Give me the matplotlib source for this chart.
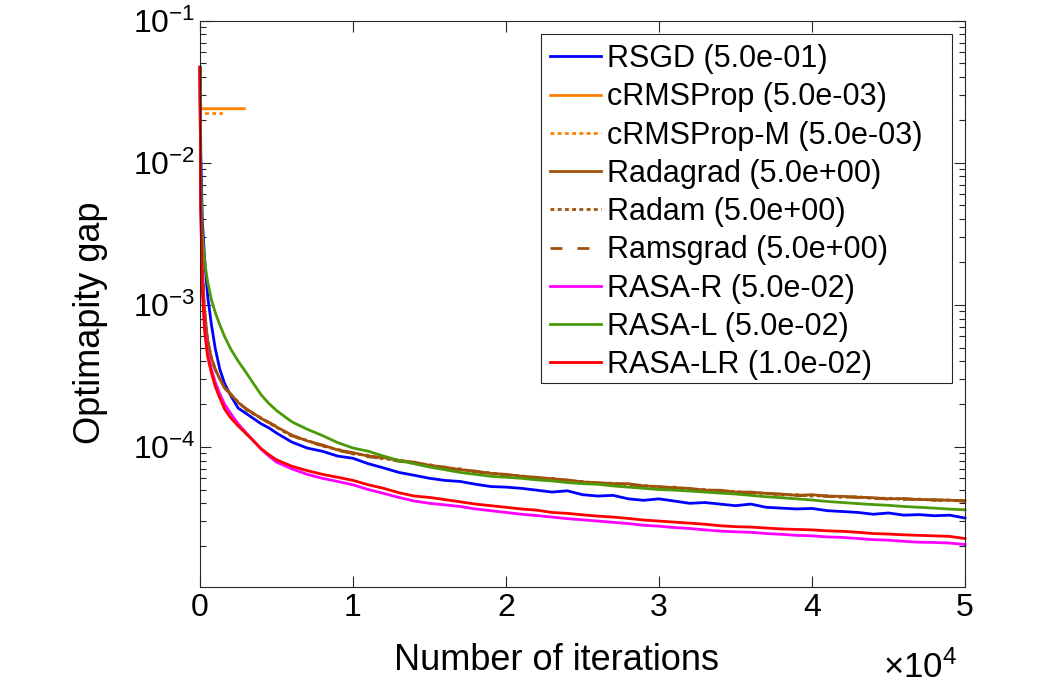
import numpy as np
import matplotlib.pyplot as plt
from matplotlib.patches import Rectangle
from matplotlib.ticker import FixedLocator, LogLocator, NullFormatter

plt.rcParams['font.family'] = ['Liberation Sans', 'DejaVu Sans']
plt.rcParams['mathtext.fontset'] = 'custom'
plt.rcParams['mathtext.rm'] = 'Liberation Sans'
plt.rcParams['mathtext.it'] = 'Liberation Sans:italic'

iters = [0, 50, 150, 300, 500, 750, 1000, 1300, 1600, 2000, 2500, 3000, 3500, 4000, 4500,
         5000, 6000, 7000, 8000, 9000, 10000, 11000, 12000, 13000, 14000, 15000, 16000,
         17000, 18000, 19000, 20000, 21000, 22000, 23000, 24000, 25000, 26000, 27000,
         28000, 29000, 30000, 31000, 32000, 33000, 34000, 35000, 36000, 37000, 38000,
         39000, 40000, 41000, 42000, 43000, 44000, 45000, 46000, 47000, 48000, 49000, 50000]

rsgd = [4.7e-2, 1.2e-2, 4.0e-3, 2.1e-3, 1.15e-3, 7.2e-4, 4.9e-4, 3.5e-4, 2.8e-4, 2.3e-4,
        1.87e-4, 1.72e-4, 1.58e-4, 1.45e-4, 1.36e-4, 1.25e-4, 1.08e-4, 9.8e-5, 9.3e-5,
        8.6e-5, 8.3e-5, 7.6e-5, 7.1e-5, 6.6e-5, 6.3e-5, 6.0e-5, 5.8e-5, 5.7e-5, 5.45e-5,
        5.25e-5, 5.2e-5, 5.1e-5, 4.95e-5, 4.8e-5, 4.9e-5, 4.6e-5, 4.5e-5, 4.55e-5, 4.3e-5,
        4.2e-5, 4.3e-5, 4.15e-5, 4.0e-5, 4.05e-5, 3.95e-5, 3.85e-5, 3.95e-5, 3.75e-5,
        3.7e-5, 3.65e-5, 3.68e-5, 3.55e-5, 3.5e-5, 3.45e-5, 3.35e-5, 3.42e-5, 3.3e-5,
        3.33e-5, 3.27e-5, 3.3e-5, 3.15e-5]

crms_it = [0, 50, 2900]
crms = [4.7e-2, 2.4e-2, 2.4e-2]
crmsm_it = [0, 50, 1500]
crmsm = [4.7e-2, 2.22e-2, 2.22e-2]

radagrad = [4.7e-2, 6.0e-3, 1.8e-3, 9.0e-4, 5.6e-4, 4.2e-4, 3.5e-4, 3.0e-4, 2.6e-4, 2.35e-4,
            2.05e-4, 1.85e-4, 1.72e-4, 1.58e-4, 1.49e-4, 1.38e-4, 1.21e-4, 1.1e-4, 1.03e-4,
            9.5e-5, 9.1e-5, 8.6e-5, 8.4e-5, 8.0e-5, 7.8e-5, 7.4e-5, 7.2e-5, 6.9e-5, 6.75e-5,
            6.5e-5, 6.4e-5, 6.2e-5, 6.1e-5, 5.95e-5, 5.85e-5, 5.65e-5, 5.6e-5, 5.5e-5, 5.5e-5,
            5.3e-5, 5.25e-5, 5.15e-5, 5.1e-5, 4.95e-5, 4.95e-5, 4.8e-5, 4.8e-5, 4.7e-5,
            4.65e-5, 4.55e-5, 4.6e-5, 4.5e-5, 4.48e-5, 4.42e-5, 4.38e-5, 4.3e-5, 4.32e-5,
            4.25e-5, 4.24e-5, 4.2e-5, 4.18e-5]
radam = [4.7e-2, 6.0e-3, 1.8e-3, 9.0e-4, 5.6e-4, 4.2e-4, 3.5e-4, 3.0e-4, 2.62e-4, 2.33e-4,
         2.07e-4, 1.83e-4, 1.7e-4, 1.6e-4, 1.47e-4, 1.37e-4, 1.19e-4, 1.11e-4, 1.01e-4,
         9.6e-5, 8.9e-5, 8.7e-5, 8.2e-5, 8.1e-5, 7.6e-5, 7.5e-5, 7.0e-5, 7.0e-5, 6.6e-5,
         6.55e-5, 6.3e-5, 6.25e-5, 6.0e-5, 6.0e-5, 5.75e-5, 5.7e-5, 5.5e-5, 5.55e-5, 5.4e-5,
         5.35e-5, 5.15e-5, 5.2e-5, 5.0e-5, 5.0e-5, 4.85e-5, 4.85e-5, 4.7e-5, 4.72e-5,
         4.58e-5, 4.6e-5, 4.5e-5, 4.52e-5, 4.4e-5, 4.45e-5, 4.32e-5, 4.35e-5, 4.25e-5,
         4.28e-5, 4.2e-5, 4.22e-5, 4.12e-5]
ramsgrad = [4.7e-2, 6.0e-3, 1.8e-3, 9.0e-4, 5.6e-4, 4.2e-4, 3.5e-4, 3.0e-4, 2.6e-4, 2.36e-4,
            2.04e-4, 1.86e-4, 1.71e-4, 1.57e-4, 1.48e-4, 1.39e-4, 1.2e-4, 1.09e-4, 1.02e-4,
            9.4e-5, 9.0e-5, 8.5e-5, 8.3e-5, 7.9e-5, 7.7e-5, 7.35e-5, 7.1e-5, 6.85e-5, 6.7e-5,
            6.45e-5, 6.35e-5, 6.15e-5, 6.05e-5, 5.9e-5, 5.8e-5, 5.6e-5, 5.55e-5, 5.45e-5,
            5.45e-5, 5.25e-5, 5.2e-5, 5.1e-5, 5.05e-5, 4.92e-5, 4.9e-5, 4.78e-5, 4.75e-5,
            4.68e-5, 4.62e-5, 4.52e-5, 4.55e-5, 4.47e-5, 4.45e-5, 4.4e-5, 4.35e-5, 4.28e-5,
            4.3e-5, 4.23e-5, 4.22e-5, 4.18e-5, 4.15e-5]

rasa_r = [4.7e-2, 5.5e-3, 1.4e-3, 7.0e-4, 4.6e-4, 3.5e-4, 2.85e-4, 2.35e-4, 2.0e-4, 1.72e-4,
          1.45e-4, 1.26e-4, 1.1e-4, 9.6e-5, 8.6e-5, 7.8e-5, 7.0e-5, 6.4e-5, 6.0e-5, 5.7e-5,
          5.4e-5, 5.0e-5, 4.7e-5, 4.4e-5, 4.15e-5, 4.0e-5, 3.9e-5, 3.8e-5, 3.65e-5, 3.55e-5,
          3.45e-5, 3.35e-5, 3.28e-5, 3.2e-5, 3.12e-5, 3.06e-5, 3.0e-5, 2.94e-5, 2.88e-5,
          2.8e-5, 2.76e-5, 2.7e-5, 2.66e-5, 2.6e-5, 2.55e-5, 2.52e-5, 2.5e-5, 2.45e-5,
          2.42e-5, 2.38e-5, 2.36e-5, 2.32e-5, 2.3e-5, 2.26e-5, 2.22e-5, 2.2e-5, 2.16e-5,
          2.13e-5, 2.12e-5, 2.1e-5, 2.05e-5]
rasa_l = [4.7e-2, 8.0e-3, 3.2e-3, 2.0e-3, 1.45e-3, 1.08e-3, 8.8e-4, 7.2e-4, 6.0e-4, 4.9e-4,
          4.0e-4, 3.35e-4, 2.78e-4, 2.32e-4, 2.02e-4, 1.8e-4, 1.5e-4, 1.33e-4, 1.2e-4,
          1.07e-4, 9.8e-5, 9.3e-5, 8.6e-5, 8.0e-5, 7.6e-5, 7.2e-5, 6.9e-5, 6.6e-5, 6.4e-5,
          6.2e-5, 6.1e-5, 6.0e-5, 5.85e-5, 5.75e-5, 5.6e-5, 5.5e-5, 5.45e-5, 5.3e-5, 5.2e-5,
          5.1e-5, 5.0e-5, 4.95e-5, 4.88e-5, 4.8e-5, 4.72e-5, 4.65e-5, 4.55e-5, 4.45e-5,
          4.38e-5, 4.3e-5, 4.22e-5, 4.12e-5, 4.05e-5, 3.98e-5, 3.92e-5, 3.87e-5, 3.8e-5,
          3.75e-5, 3.7e-5, 3.64e-5, 3.6e-5]
rasa_lr = [4.7e-2, 5.0e-3, 1.3e-3, 6.5e-4, 4.3e-4, 3.3e-4, 2.65e-4, 2.2e-4, 1.85e-4, 1.6e-4,
           1.4e-4, 1.24e-4, 1.1e-4, 9.7e-5, 8.8e-5, 8.1e-5, 7.3e-5, 6.8e-5, 6.4e-5, 6.1e-5,
           5.8e-5, 5.4e-5, 5.1e-5, 4.75e-5, 4.5e-5, 4.4e-5, 4.25e-5, 4.1e-5, 3.95e-5, 3.85e-5,
           3.75e-5, 3.65e-5, 3.58e-5, 3.45e-5, 3.4e-5, 3.32e-5, 3.25e-5, 3.2e-5, 3.13e-5,
           3.05e-5, 3.0e-5, 2.95e-5, 2.9e-5, 2.85e-5, 2.78e-5, 2.74e-5, 2.72e-5, 2.68e-5,
           2.64e-5, 2.62e-5, 2.6e-5, 2.56e-5, 2.54e-5, 2.5e-5, 2.45e-5, 2.43e-5, 2.4e-5,
           2.38e-5, 2.36e-5, 2.34e-5, 2.26e-5]

blue = '#0000ff'
orange = '#ff8000'
brown = '#a0520a'
magenta = '#ff00ff'
green = '#4c9a0a'
red = '#ff0000'
dotted = (0, (1.4, 1.2))
dashed = (0, (4.3, 5.4))

fig = plt.figure(figsize=(10.43, 6.91), dpi=100)
ax = fig.add_axes([200 / 1043, 104 / 691, 765 / 1043, 566.3 / 691])

lw = 2
kw = dict(lw=lw, clip_on=False)
ax.plot(iters, rsgd, color=blue, label='RSGD (5.0e-01)', **kw)
ax.plot(crms_it, crms, color=orange, label='cRMSProp (5.0e-03)', **kw)
ax.plot(crmsm_it, crmsm, color=orange, ls=dotted, label='cRMSProp-M (5.0e-03)', **kw)
ax.plot(iters, radagrad, color=brown, label='Radagrad (5.0e+00)', **kw)
ax.plot(iters, radam, color=brown, ls=dotted, label='Radam (5.0e+00)', **kw)
ax.plot(iters, ramsgrad, color=brown, ls=dashed, label='Ramsgrad (5.0e+00)', **kw)
ax.plot(iters, rasa_r, color=magenta, label='RASA-R (5.0e-02)', **kw)
ax.plot(iters, rasa_l, color=green, label='RASA-L (5.0e-02)', **kw)
ax.plot(iters, rasa_lr, color=red, label='RASA-LR (1.0e-02)', **kw)

ax.set_yscale('log')
ax.set_xlim(0, 50000)
ax.set_ylim(1.03e-5, 1e-1)

ax.set_xticks([0, 10000, 20000, 30000, 40000, 50000])
ax.set_xticklabels(['0', '1', '2', '3', '4', '5'])
ax.yaxis.set_major_locator(FixedLocator([1e-4, 1e-3, 1e-2, 1e-1]))
ax.set_yticklabels([r'$10^{-4}$', r'$10^{-3}$', r'$10^{-2}$', r'$10^{-1}$'])
ax.yaxis.set_minor_locator(LogLocator(base=10, subs=np.arange(2, 10), numticks=20))
ax.yaxis.set_minor_formatter(NullFormatter())

axc = '#262626'
ax.tick_params(which='both', direction='in', top=True, right=True, colors=axc,
               labelcolor='black', labelsize=23, width=0.8)
ax.tick_params(which='major', length=8)
ax.tick_params(which='minor', length=4)
ax.tick_params(axis='x', pad=4)
ax.tick_params(axis='y', pad=3)
for s in ax.spines.values():
    s.set_color(axc)
    s.set_linewidth(0.8)

fig.text(557 / 1043, 1 - 660 / 691, 'Number of iterations', fontsize=26,
         ha='center', va='center')
fig.text(90 / 1043, 1 - 323 / 691, 'Optimapity gap', fontsize=26,
         ha='center', va='center', rotation=90)
fig.text(957 / 1043, 1 - 668 / 691, r'$\times10^{4}$', fontsize=25,
         ha='right', va='center')

# legend box, MATLAB style with extra room on the right
box = Rectangle((541 / 1043, 1 - 383 / 691), 411 / 1043, 349 / 691,
                transform=fig.transFigure, facecolor='white', edgecolor=axc,
                linewidth=0.8, zorder=4.5)
ax.add_artist(box)
leg = ax.legend(loc='upper left', bbox_to_anchor=(541 / 1043, 1 - 35 / 691),
                bbox_transform=fig.transFigure, borderaxespad=0, fontsize=22,
                handlelength=1.65, handletextpad=0.2, labelspacing=0.27,
                borderpad=0.3, frameon=False)
leg.set_zorder(5)

fig.savefig('out.png', dpi=100)
